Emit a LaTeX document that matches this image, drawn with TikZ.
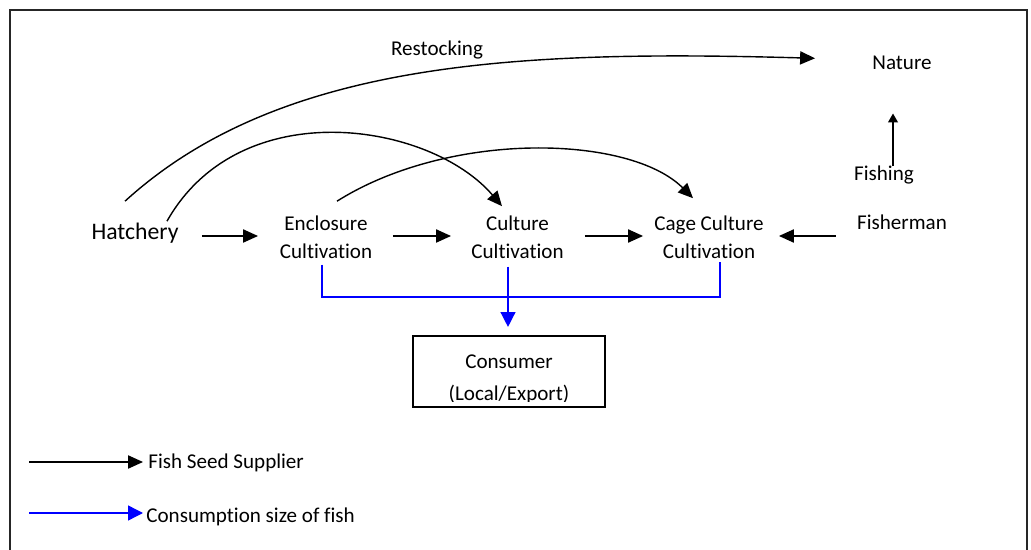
\documentclass[tikz,border=0pt]{standalone}
\usepackage{fontspec}
\setmainfont{Carlito}[Ligatures={NoCommon}]
\usetikzlibrary{arrows.meta}

\begin{document}
\begin{tikzpicture}[
            x = 0.02cm, y = -0.02cm,
            every node/.style = {font=\fontsize{12}{16.4}\selectfont, align = center, inner sep = 0pt},
            seed/.style = {draw=black, line width=0.8pt, -{Triangle[length=8.5pt,width=7.5pt]}},
            eat/.style = {draw=blue, line width=0.8pt},
            eatarrow/.style = {eat, -{Triangle[length=8.5pt,width=8.5pt]}}
                                 ]
            \useasboundingbox (0,0) rectangle (1031,550);
            \draw [line width=1.2pt, black!85] (10,570) |- (1027,10) -- (1027,570);
            %
            \node (HAT)  [anchor=base, font=\fontsize{13.5}{16}\selectfont] at (135,240) {Hatchery};
            \node (ENC)  [anchor=base] at (326,259) {Enclosure\\Cultivation};
            \node (CUL)  [anchor=base] at (517.5,259) {Culture\\Cultivation};
            \node (CAGE) [anchor=base] at (709,259) {Cage Culture\\Cultivation};
            \node (FSH)  [anchor=base] at (902,230) {Fisherman};
            \node (FSG)  [anchor=base] at (884,181) {Fishing};
            \node (NAT)  [anchor=base] at (902,70) {Nature};
            \node (RST)  [anchor=base] at (437,56) {Restocking};
            \node (CON)  [draw, line width=1.2pt, minimum width=3.84cm, minimum height=1.42cm] at (509,371.5) {};
            \begin{scope}
                \clip ([shift={(0,-7)}]CON.south west) rectangle (CON.north east);
                \node (CONT) [anchor=base, font=\fontsize{12}{18}\selectfont] at (509,400) {Consumer\\(Local/Export)};
            \end{scope}
            \coordinate (ROW) at (0,236);
            \coordinate (BAR) at (0,297);
            %
            \draw [seed, shorten <=0.46cm, shorten >=0.43cm] (HAT.east |- ROW) -- (ENC.west |- ROW);
            \draw [seed, shorten <=0.41cm, shorten >=0.40cm] (ENC.east |- ROW) -- (CUL.west |- ROW);
            \draw [seed, shorten <=0.42cm, shorten >=0.22cm] (CUL.east |- ROW) -- (CAGE.west |- ROW);
            \draw [seed, shorten <=0.42cm, shorten >=0.30cm] (FSH.west |- ROW) -- (CAGE.east |- ROW);
            \draw [seed, -{Triangle[length=5pt,width=5.5pt]}] ([shift={(9,0)}]FSG.north) -- ([shift={(-9,43)}]NAT.south);
            %
            \draw [seed] ([shift={(-10,-22)}]HAT.north) .. controls (280,60) and (520,50) .. ([shift={(-57,-5)}]NAT.west);
            \draw [seed] ([shift={(32,-2)}]HAT.north) .. controls (240,92) and (430,122) .. ([shift={(-15.5,-9)}]CUL.north);
            \draw [seed] ([shift={(11,-14)}]ENC.north) .. controls (450,130) and (630,135) .. ([shift={(-16,-17)}]CAGE.north);
            %
            \draw [eat] ([shift={(-4,5)}]ENC.south) -- ([shift={(-4,0)}]ENC.south |- BAR) -| ([shift={(11,2)}]CAGE.south);
            \draw [eatarrow] ([shift={(-9.5,7)}]CUL.south) -- ([shift={(-1,-8)}]CON.north);
            %
            \coordinate (K1) at (29,462);
            \coordinate (K2) at (29,513);
            \node (LG1) [anchor=base west] at (148,468) {Fish Seed Supplier};
            \node (LG2) [anchor=base west] at (146,522) {Consumption size of fish};
            \draw [seed] (K1) -- ([shift={(-5,0)}]LG1.west |- K1);
            \draw [eatarrow] (K2) -- ([shift={(-3,0)}]LG2.west |- K2);
    \end{tikzpicture}
\end{document}
